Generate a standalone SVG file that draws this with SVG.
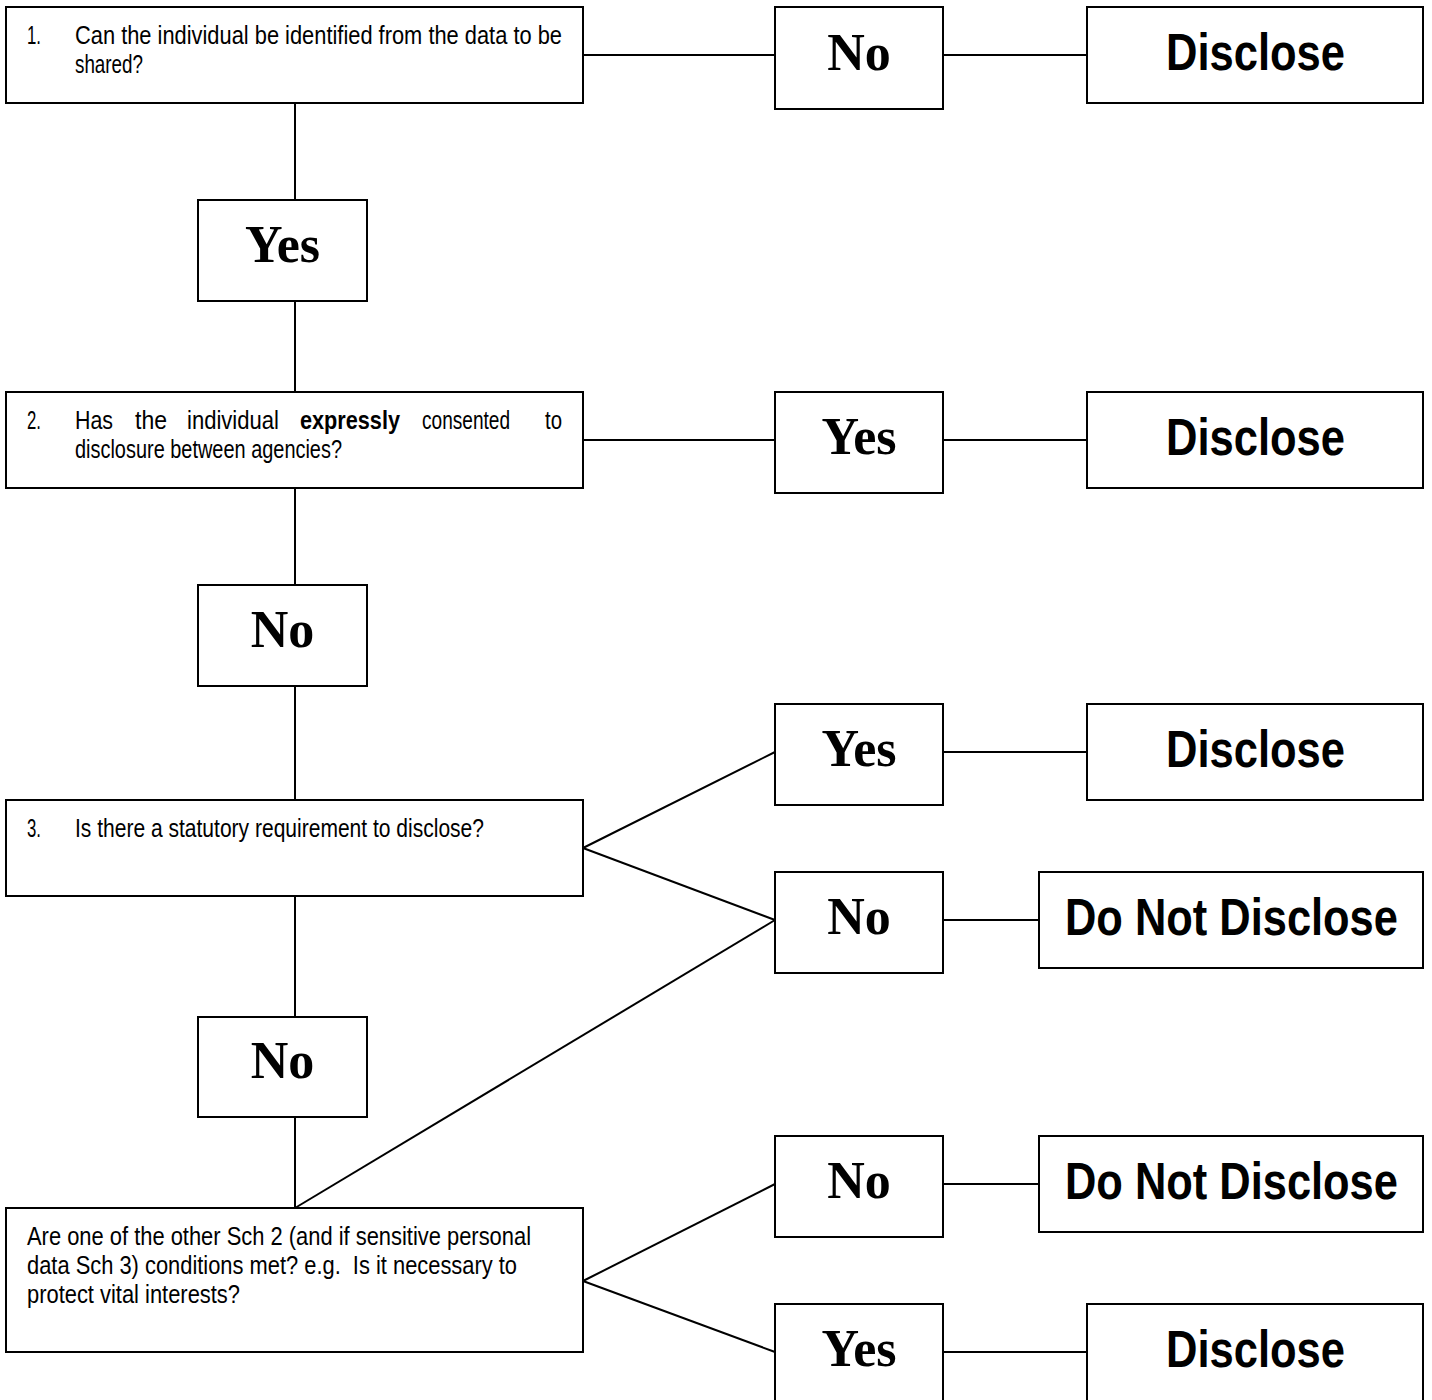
<svg xmlns="http://www.w3.org/2000/svg" width="1432" height="1400" viewBox="0 0 1432 1400">
<style>
.box{fill:#fff;stroke:#000;stroke-width:2}
.conn line{stroke:#000;stroke-width:2}
.q{font-family:"Liberation Sans",Arial,sans-serif;font-size:25px;fill:#000}
.qb{font-family:"Liberation Sans",Arial,sans-serif;font-size:25px;font-weight:bold;fill:#000}
.yn{font-family:"Liberation Serif","Times New Roman",serif;font-size:52px;font-weight:bold;fill:#000;text-anchor:middle}
.out{font-family:"Liberation Sans",Arial,sans-serif;font-size:52px;font-weight:bold;fill:#000}
</style>
<rect width="1432" height="1400" fill="#fff"/>
<g class="conn" id="connectors">
<line x1="583" y1="55" x2="775" y2="55"/>
<line x1="943" y1="55" x2="1087" y2="55"/>
<line x1="295" y1="103" x2="295" y2="200"/>
<line x1="295" y1="301" x2="295" y2="392"/>
<line x1="583" y1="440" x2="775" y2="440"/>
<line x1="943" y1="440" x2="1087" y2="440"/>
<line x1="295" y1="488" x2="295" y2="585"/>
<line x1="295" y1="686" x2="295" y2="800"/>
<line x1="583" y1="848" x2="775" y2="752"/>
<line x1="583" y1="848" x2="775" y2="920"/>
<line x1="943" y1="752" x2="1087" y2="752"/>
<line x1="943" y1="920" x2="1039" y2="920"/>
<line x1="295" y1="896" x2="295" y2="1017"/>
<line x1="295" y1="1117" x2="295" y2="1208"/>
<line x1="295" y1="1208" x2="775" y2="920"/>
<line x1="583" y1="1281" x2="775" y2="1184"/>
<line x1="583" y1="1281" x2="775" y2="1352"/>
<line x1="943" y1="1184" x2="1039" y2="1184"/>
<line x1="943" y1="1352" x2="1087" y2="1352"/>
</g>
<g id="q1">
<rect class="box" x="6" y="7" width="577" height="96"/>
<text class="q" x="27" y="44" textLength="14" lengthAdjust="spacingAndGlyphs">1.</text>
<text class="q" x="75" y="44" textLength="487" lengthAdjust="spacingAndGlyphs">Can the individual be identified from the data to be</text>
<text class="q" x="75" y="73" textLength="68" lengthAdjust="spacingAndGlyphs">shared?</text>
</g>
<g id="q1-no">
<rect class="box" x="775" y="7" width="168" height="102"/>
<text class="yn" x="859" y="70">No</text>
</g>
<g id="q1-disclose">
<rect class="box" x="1087" y="7" width="336" height="96"/>
<text class="out" x="1166" y="70" textLength="179" lengthAdjust="spacingAndGlyphs">Disclose</text>
</g>
<g id="q1-yes">
<rect class="box" x="198" y="200" width="169" height="101"/>
<text class="yn" x="282.5" y="262">Yes</text>
</g>
<g id="q2">
<rect class="box" x="6" y="392" width="577" height="96"/>
<text class="q" x="27" y="429" textLength="14" lengthAdjust="spacingAndGlyphs">2.</text>
<text class="q" x="75" y="429" textLength="38" lengthAdjust="spacingAndGlyphs">Has</text>
<text class="q" x="135" y="429" textLength="32" lengthAdjust="spacingAndGlyphs">the</text>
<text class="q" x="187" y="429" textLength="92" lengthAdjust="spacingAndGlyphs">individual</text>
<text class="qb" x="300" y="429" textLength="100" lengthAdjust="spacingAndGlyphs">expressly</text>
<text class="q" x="422" y="429" textLength="88" lengthAdjust="spacingAndGlyphs">consented</text>
<text class="q" x="545" y="429" textLength="17" lengthAdjust="spacingAndGlyphs">to</text>
<text class="q" x="75" y="458" textLength="267" lengthAdjust="spacingAndGlyphs">disclosure between agencies?</text>
</g>
<g id="q2-yes">
<rect class="box" x="775" y="392" width="168" height="101"/>
<text class="yn" x="859" y="454">Yes</text>
</g>
<g id="q2-disclose">
<rect class="box" x="1087" y="392" width="336" height="96"/>
<text class="out" x="1166" y="455" textLength="179" lengthAdjust="spacingAndGlyphs">Disclose</text>
</g>
<g id="q2-no">
<rect class="box" x="198" y="585" width="169" height="101"/>
<text class="yn" x="282.5" y="647">No</text>
</g>
<g id="q3">
<rect class="box" x="6" y="800" width="577" height="96"/>
<text class="q" x="27" y="837" textLength="14" lengthAdjust="spacingAndGlyphs">3.</text>
<text class="q" x="75" y="837" textLength="409" lengthAdjust="spacingAndGlyphs">Is there a statutory requirement to disclose?</text>
</g>
<g id="q3-yes">
<rect class="box" x="775" y="704" width="168" height="101"/>
<text class="yn" x="859" y="766">Yes</text>
</g>
<g id="q3-disclose">
<rect class="box" x="1087" y="704" width="336" height="96"/>
<text class="out" x="1166" y="767" textLength="179" lengthAdjust="spacingAndGlyphs">Disclose</text>
</g>
<g id="q3-no">
<rect class="box" x="775" y="872" width="168" height="101"/>
<text class="yn" x="859" y="934">No</text>
</g>
<g id="q3-donot">
<rect class="box" x="1039" y="872" width="384" height="96"/>
<text class="out" transform="translate(1065 935) scale(0.81 1)" x="0" y="0" textLength="411" lengthAdjust="spacingAndGlyphs">Do Not Disclose</text>
</g>
<g id="q3-no2">
<rect class="box" x="198" y="1017" width="169" height="100"/>
<text class="yn" x="282.5" y="1078">No</text>
</g>
<g id="q4">
<rect class="box" x="6" y="1208" width="577" height="144"/>
<text class="q" x="27" y="1245" textLength="504" lengthAdjust="spacingAndGlyphs">Are one of the other Sch 2 (and if sensitive personal</text>
<text class="q" x="27" y="1274" textLength="490" lengthAdjust="spacingAndGlyphs" xml:space="preserve">data Sch 3) conditions met? e.g.  Is it necessary to</text>
<text class="q" x="27" y="1303" textLength="213" lengthAdjust="spacingAndGlyphs">protect vital interests?</text>
</g>
<g id="q4-no">
<rect class="box" x="775" y="1136" width="168" height="101"/>
<text class="yn" x="859" y="1198">No</text>
</g>
<g id="q4-donot">
<rect class="box" x="1039" y="1136" width="384" height="96"/>
<text class="out" transform="translate(1065 1199) scale(0.81 1)" x="0" y="0" textLength="411" lengthAdjust="spacingAndGlyphs">Do Not Disclose</text>
</g>
<g id="q4-yes">
<rect class="box" x="775" y="1304" width="168" height="102"/>
<text class="yn" x="859" y="1366">Yes</text>
</g>
<g id="q4-disclose">
<rect class="box" x="1087" y="1304" width="336" height="100"/>
<text class="out" x="1166" y="1367" textLength="179" lengthAdjust="spacingAndGlyphs">Disclose</text>
</g>
</svg>
